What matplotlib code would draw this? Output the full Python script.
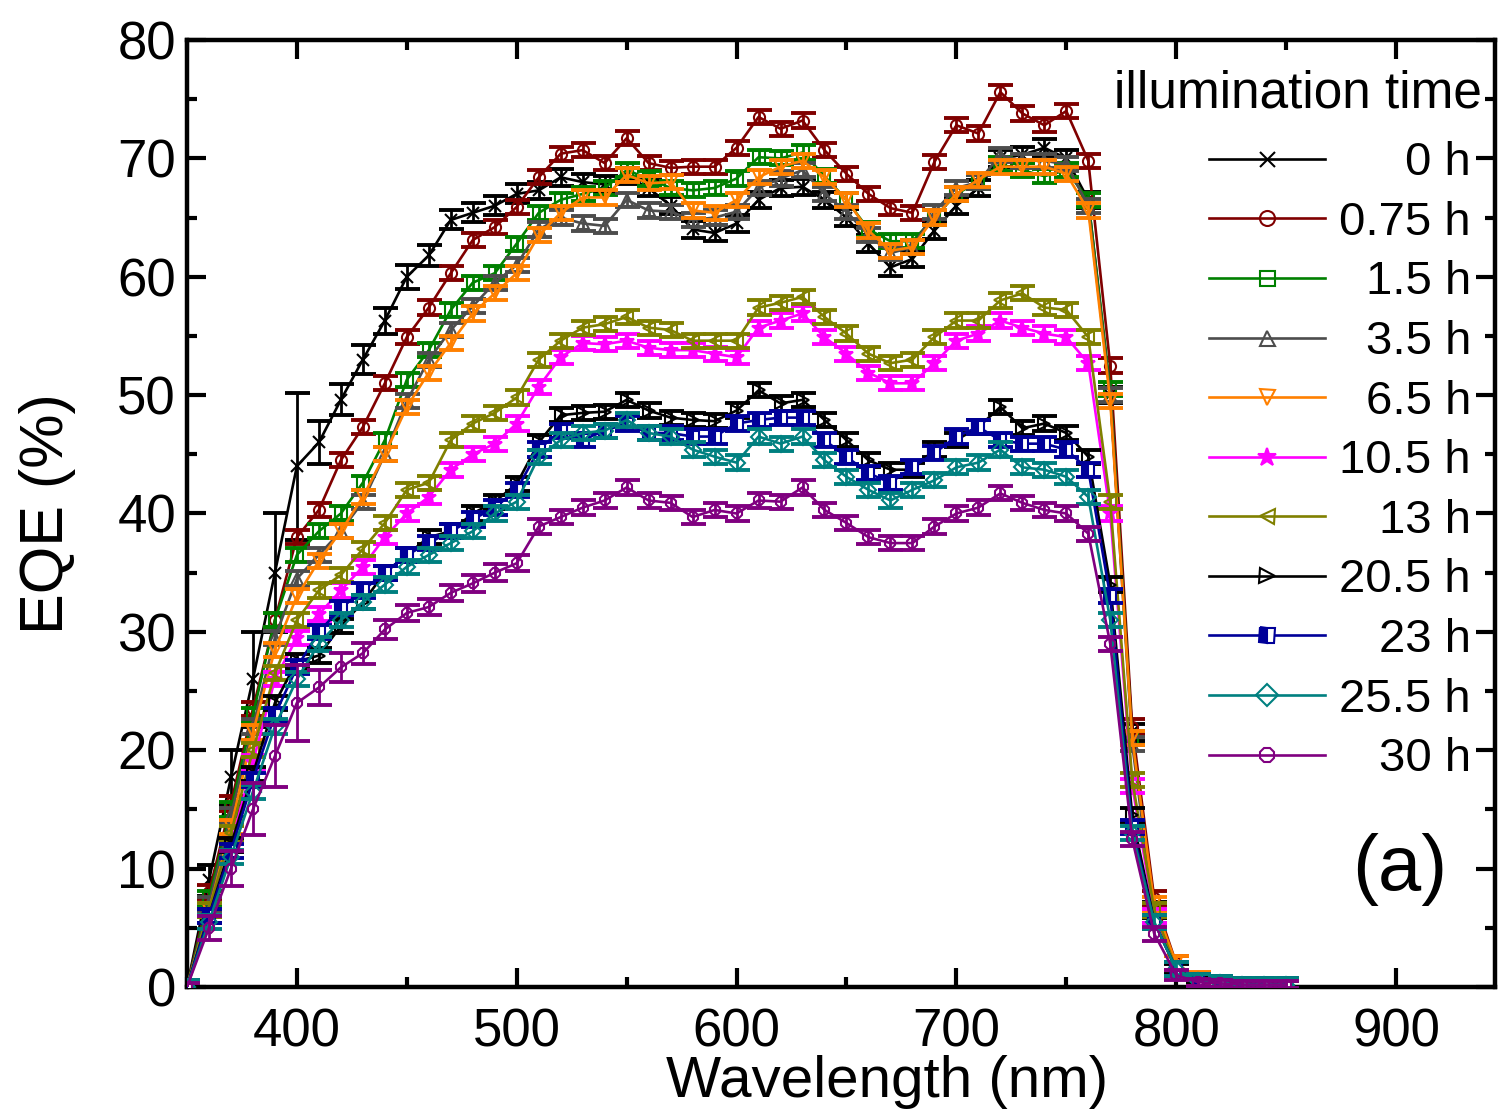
import numpy as np
import matplotlib
matplotlib.use("Agg")
import matplotlib.pyplot as plt
from matplotlib.ticker import MultipleLocator

plt.rcParams["font.family"] = ["Liberation Sans", "DejaVu Sans"]

# wavelength grid (nm)
wavelength = np.arange(350, 851, 10)

labels = ["0 h", "0.75 h", "1.5 h", "3.5 h", "6.5 h", "10.5 h",
          "13 h", "20.5 h", "23 h", "25.5 h", "30 h"]

eqe_0h = [0, 9, 17.7, 26, 35, 44, 46, 49.6, 53, 56.3, 60, 61.8, 64.8, 65.4, 66, 67,
          67.3, 68.4, 68, 67.8, 68.5, 67.5, 66, 64, 63.7, 64.5, 66.5, 67.5, 67.6, 66.5,
          65, 62.8, 60.8, 61.5, 63.9, 66, 67.5, 70, 70.3, 70.9, 70, 66.5, 50, 21.5, 6.5,
          1.5, 0.6, 0.3, 0.2, 0.2, 0.2]
eqe_075h = [0, 8, 15.5, 23.5, 31, 38, 40.3, 44.5, 47.3, 51, 54.9, 57.4, 60.3, 63.1, 64.2,
            65.9, 68.4, 70.4, 70.7, 69.6, 71.7, 69.6, 69.2, 69.3, 69.3, 70.9, 73.5, 72.5,
            73.2, 70.7, 68.7, 67, 65.8, 65.4, 69.7, 72.8, 72.1, 75.6, 73.8, 72.8, 74, 69.8,
            52.5, 22, 7.5, 2, 0.6, 0.3, 0.2, 0.2, 0.2]
eqe_15h = [0, 7.5, 15, 23, 31, 36.5, 38.5, 40, 42.6, 46.2, 51.3, 53.8, 57.2, 59.5, 60.3,
           62.8, 65.4, 66.5, 67, 67.5, 69, 68.3, 67.5, 67.3, 67.5, 68.3, 70.1, 70, 70.5,
           68.5, 66.5, 64, 63, 63, 65, 67, 68, 69.5, 69, 68.5, 69, 66.5, 50.5, 21, 6.5,
           1.5, 0.6, 0.3, 0.2, 0.2, 0.2]
eqe_35h = [0, 7, 14.5, 22, 29.5, 34.5, 36.5, 38.5, 41, 45, 49.5, 53, 55.5, 57.5, 59.5,
           61, 64, 65, 64.5, 64.3, 66.5, 65.6, 65.5, 64.8, 65, 65.5, 67.5, 68.3, 69, 67,
           65.5, 63.5, 62, 62.5, 65.5, 67.5, 68, 70.3, 69.8, 69.8, 69.5, 66, 50, 20.5, 6,
           1.5, 0.6, 0.3, 0.2, 0.2, 0.2]
eqe_65h = [0, 6.5, 13.5, 21.5, 28.5, 33, 36, 38.5, 41.4, 45, 49, 51.9, 54.4, 56.9, 58.6,
           60.3, 63.5, 65.4, 66.7, 66.7, 68.6, 67.9, 68, 65.6, 65.4, 66.5, 68.4, 69.3, 69.8,
           68.4, 66.5, 63.9, 62.2, 62.5, 65, 67, 68.2, 69.3, 69.3, 69.3, 68.7, 65.6, 49.5,
           21, 7, 2, 0.7, 0.3, 0.2, 0.2, 0.2]
eqe_105h = [0, 6, 12, 19, 26, 29.5, 31.5, 33.5, 35.5, 38, 40, 41.4, 43.7, 45, 45.9, 47.6,
            50.7, 53.2, 54.4, 54.3, 54.6, 54, 53.8, 53.8, 53.5, 53.2, 55.7, 56.3, 56.9, 54.9,
            53.5, 51.9, 51, 51, 52.7, 54.6, 55.2, 56.3, 55.7, 55.2, 54.9, 52.7, 40, 17, 6,
            1.5, 0.5, 0.3, 0.2, 0.2, 0.2]
eqe_13h = [0, 6.5, 13, 20, 26.5, 31, 33.5, 34.8, 37, 39.2, 42, 42.6, 46.2, 47.6, 48.5,
           49.8, 53, 54.6, 55.7, 56, 56.6, 55.7, 55.5, 54.6, 54.6, 54.6, 57.4, 57.8, 58.3,
           56.6, 55.2, 53.5, 52.7, 53, 54.9, 56.3, 56.3, 58, 58.6, 57.4, 57.2, 54.9, 41,
           17.5, 6.5, 1.5, 0.5, 0.3, 0.2, 0.2, 0.2]
eqe_205h = [0, 6, 12, 18, 24, 27.5, 28, 30.5, 32.5, 35, 36.5, 38, 38.5, 40, 41, 42.5,
            46, 48.3, 48.5, 48.6, 49.6, 48.7, 48.1, 47.9, 47.8, 48.7, 50.4, 49.3, 49.6, 47.9,
            46.2, 44.5, 43.7, 43.7, 45.4, 46.2, 47.3, 49, 47.2, 47.6, 46.8, 44.8, 34, 14.5,
            5.5, 1.5, 0.5, 0.3, 0.2, 0.2, 0.2]
eqe_23h = [0, 6, 11.5, 17.5, 23, 27, 30, 32, 33.5, 35, 36.5, 37.5, 38.5, 39.5, 40.5, 42,
           45.4, 47, 46.2, 47, 47.6, 46.8, 46.8, 46.5, 46.5, 47.6, 47.9, 48.1, 48.1, 46.2,
           44.8, 43.4, 42.6, 43.9, 45.1, 46.5, 47.3, 46.2, 45.9, 45.9, 45.4, 43.7, 33, 13.5,
           5.5, 1.5, 0.5, 0.3, 0.2, 0.2, 0.2]
eqe_255h = [0, 5.5, 11, 16.5, 22, 26, 29, 31, 32.5, 34, 35.5, 36.5, 37.5, 38.5, 40, 41,
            44.8, 46.2, 46.8, 47, 47.9, 46.8, 46.5, 45.4, 44.8, 44.3, 46.5, 45.9, 46.5, 44.5,
            43.1, 42, 41.1, 42, 42.8, 43.9, 44.3, 45.4, 43.9, 43.7, 43.1, 41.4, 31, 13, 5.5,
            1.5, 0.5, 0.3, 0.2, 0.2, 0.2]
eqe_30h = [0, 5, 10, 15, 19.5, 24, 25.3, 27, 28.2, 30.2, 31.6, 32.1, 33.3, 34.1, 35, 35.8,
           38.9, 39.7, 40.5, 41.1, 42.2, 41.1, 40.9, 39.7, 40.3, 40, 41.1, 41, 42.2, 40.3,
           39.2, 38, 37.5, 37.5, 38.9, 40, 40.5, 41.7, 40.9, 40.3, 40, 38.3, 29, 12.5, 4.5,
           1, 0.4, 0.3, 0.2, 0.2, 0.2]

# error bars (half widths)
err_0h = [0.3, 1.3, 2.3, 4, 5, 6.2, 1.8, 1.3, 1.2, 1.1, 1, 0.9, 0.8, 0.8, 0.8, 0.8,
          0.7, 0.7, 0.7, 0.7, 0.7, 0.7, 0.7, 0.7, 0.7, 0.7, 0.7, 0.7, 0.7, 0.7, 0.7,
          0.7, 0.7, 0.7, 0.7, 0.7, 0.7, 0.7, 0.7, 0.7, 0.7, 0.7, 0.7, 0.7, 0.7,
          0.4, 0.3, 0.3, 0.3, 0.3, 0.3]
err_30h = [0.3, 1, 1.5, 2.2, 2.6, 3.2, 1.5, 1.2, 0.9, 0.8, 0.7, 0.7, 0.7, 0.7, 0.7, 0.7,
           0.6, 0.6, 0.6, 0.6, 0.6, 0.6, 0.6, 0.6, 0.6, 0.6, 0.6, 0.6, 0.6, 0.6, 0.6,
           0.6, 0.6, 0.6, 0.6, 0.6, 0.6, 0.6, 0.6, 0.6, 0.6, 0.6, 0.6, 0.6, 0.6,
           0.4, 0.3, 0.3, 0.3, 0.3, 0.3]
err_typical = 0.6

series = [eqe_0h, eqe_075h, eqe_15h, eqe_35h, eqe_65h, eqe_105h,
          eqe_13h, eqe_205h, eqe_23h, eqe_255h, eqe_30h]
errors = [err_0h] + [err_typical] * 9 + [err_30h]

colors = ["#000000", "#800000", "#008000", "#4d4d4d", "#ff8000", "#ff00ff",
          "#808000", "#000000", "#000099", "#008080", "#800080"]
markers = ["x", "o", "s", "^", "v", "*", "<", ">", "s", "D", "8"]

fig = plt.figure(figsize=(15.02, 11.18), dpi=100)
ax = fig.add_axes([0.1245, 0.1172, 0.8708, 0.8470])

handles = []
for i, (y, e, c, m, lab) in enumerate(zip(series, errors, colors, markers, labels)):
    ax.errorbar(wavelength, y, yerr=e, fmt="none", ecolor=c, elinewidth=2.0,
                capsize=9, capthick=2.8, zorder=2 + i)
    kw = dict(color=c, marker=m, lw=1.9, ms=8, mew=1.5, mfc="none", zorder=2 + i)
    if lab == "23 h":
        kw.update(mfc=c, fillstyle="left", markerfacecoloralt="white")
    if m == "*":
        kw.update(mfc=c, ms=10)
    (ln,) = ax.plot(wavelength, y, label=lab, **kw)
    handles.append(ln)

ax.set_xlim(350, 945)
ax.set_ylim(0, 80)
ax.xaxis.set_major_locator(MultipleLocator(100))
ax.xaxis.set_minor_locator(MultipleLocator(50))
ax.yaxis.set_major_locator(MultipleLocator(10))
ax.yaxis.set_minor_locator(MultipleLocator(5))
ax.tick_params(which="both", direction="in", top=True, right=True, width=3)
ax.tick_params(which="major", length=14, labelsize=38)
ax.tick_params(which="minor", length=7)
ax.tick_params(axis="x", which="major", pad=15)
ax.tick_params(axis="y", which="major", pad=8)
for sp in ax.spines.values():
    sp.set_linewidth(3.2)

ax.set_xlabel("Wavelength (nm)", fontsize=42)
ax.xaxis.set_label_coords(0.535, -0.072)
ax.set_ylabel("EQE (%)", fontsize=44, labelpad=30)

ax.text(0.927, 0.124, "(a)", transform=ax.transAxes, fontsize=56,
        ha="center", va="center")

leg = ax.legend(handles=handles, loc="upper right", bbox_to_anchor=(0.9794, 0.969),
                frameon=False, fontsize=34, title="illumination time",
                title_fontsize=37, handlelength=2.45, handletextpad=0.25,
                labelspacing=0.33, borderpad=0, borderaxespad=0,
                markerscale=1.35, alignment="right")
# a little more room between the title and the first entry
leg._legend_box.sep = 16.5

# right-align legend labels, push the title slightly right
fig.canvas.draw()
renderer = fig.canvas.get_renderer()
texts = leg.get_texts()
rights = [t.get_window_extent(renderer).x1 for t in texts]
rmax = max(rights)
for t, r in zip(texts, rights):
    x0, y0 = t.get_position()
    t.set_position((x0 + (rmax - r) + 3, y0))
title = leg.get_title()
tx, ty = title.get_position()
title.set_position((tx + 14, ty))

fig.savefig("out.png", dpi=100)
